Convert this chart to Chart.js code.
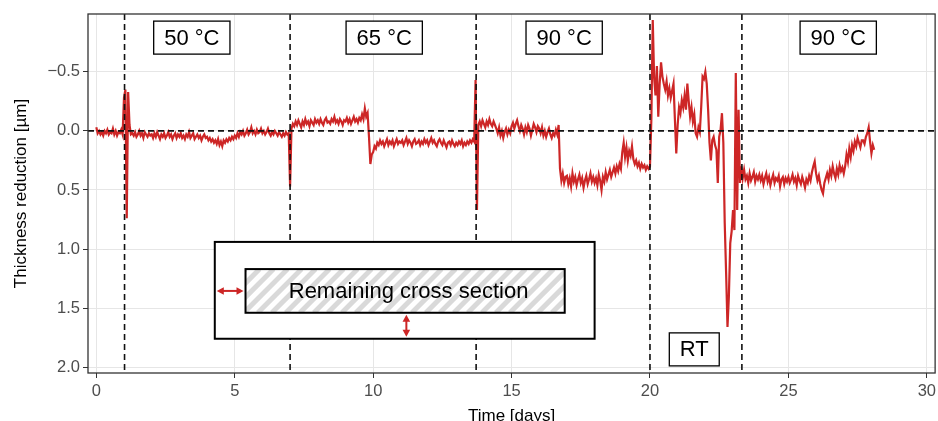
<!DOCTYPE html>
<html>
<head>
<meta charset="utf-8">
<script src="https://cdn.jsdelivr.net/npm/chart.js@4/dist/chart.umd.min.js"></script>
<style>
  html, body { margin: 0; padding: 0; background: #fff; overflow: hidden; }
  #wrap { width: 940px; height: 421px; position: relative; }
</style>
</head>
<body>
<div id="wrap"><canvas id="chart"></canvas></div>
<script>
// ── Daten ────────────────────────────────────────────────────

// Messwerte alle 0.05 Tage (20 pro Tag), Dickenabnahme in µm
const SAMPLE_STEP = 0.05;
const thickness = [
  // Tag 0
  -0.03, 0.02, 0.00, 0.03, 0.01, 0.04, 0.00, 0.02, -0.01, 0.03, 0.01, 0.02, -0.02, 0.03, 0.00, 0.04, 0.01, 0.02, -0.01, 0.03,
  // Tag 1
  -0.28, -0.35, 0.74, -0.33, -0.05, 0.03, 0.02, 0.04, 0.01, 0.05, 0.03, 0.00, 0.04, 0.02, 0.06, 0.01, 0.03, 0.05, 0.02, 0.04,
  // Tag 2
  0.03, 0.06, 0.02, 0.05, 0.01, 0.04, 0.07, 0.03, 0.05, 0.02, 0.06, 0.04, 0.01, 0.05, 0.03, 0.07, 0.04, 0.02, 0.06, 0.03,
  // Tag 3
  0.05, 0.02, 0.06, 0.04, 0.07, 0.03, 0.05, 0.01, 0.06, 0.04, 0.02, 0.07, 0.05, 0.03, 0.06, 0.04, 0.08, 0.05, 0.03, 0.06,
  // Tag 4
  0.05, 0.08, 0.06, 0.09, 0.07, 0.10, 0.08, 0.11, 0.07, 0.12, 0.09, 0.13, 0.08, 0.10, 0.07, 0.09, 0.06, 0.08, 0.05, 0.07,
  // Tag 5
  0.04, 0.06, 0.02, 0.05, 0.01, 0.03, 0.00, 0.04, 0.02, -0.01, 0.03, 0.01, -0.03, 0.02, 0.00, 0.03, -0.01, 0.02, 0.01, -0.02,
  // Tag 6
  0.02, 0.00, 0.03, 0.01, -0.02, 0.02, 0.04, 0.01, 0.03, 0.00, 0.02, 0.04, 0.01, 0.03, 0.05, 0.02, 0.04, 0.01, 0.03, 0.02,
  // Tag 7
  0.47, -0.02, -0.06, -0.04, -0.08, -0.05, -0.09, -0.06, -0.03, -0.08, -0.05, -0.10, -0.06, -0.08, -0.04, -0.09, -0.07, -0.05, -0.10, -0.07,
  // Tag 8
  -0.09, -0.06, -0.10, -0.07, -0.05, -0.09, -0.11, -0.07, -0.08, -0.06, -0.10, -0.08, -0.12, -0.07, -0.09, -0.06, -0.10, -0.08, -0.05, -0.09,
  // Tag 9
  -0.08, -0.11, -0.07, -0.10, -0.06, -0.09, -0.12, -0.08, -0.10, -0.07, -0.11, -0.09, -0.14, -0.10, -0.19, -0.12, -0.15, 0.05, 0.28, 0.20,
  // Tag 10
  0.18, 0.13, 0.15, 0.10, 0.12, 0.08, 0.11, 0.09, 0.13, 0.10, 0.07, 0.12, 0.09, 0.11, 0.08, 0.13, 0.10, 0.07, 0.11, 0.09,
  // Tag 11
  0.10, 0.08, 0.12, 0.09, 0.06, 0.11, 0.08, 0.10, 0.13, 0.09, 0.07, 0.11, 0.10, 0.08, 0.12, 0.09, 0.11, 0.07, 0.10, 0.08,
  // Tag 12
  0.12, 0.09, 0.06, 0.10, 0.08, 0.11, 0.13, 0.09, 0.07, 0.10, 0.12, 0.08, 0.11, 0.14, 0.10, 0.09, 0.12, 0.08, 0.11, 0.13,
  // Tag 13
  0.10, 0.12, 0.09, 0.11, 0.08, 0.13, 0.10, 0.12, 0.09, 0.11, 0.08, 0.10, 0.07, 0.09, -0.43, 0.67, -0.05, -0.08, -0.04, -0.09,
  // Tag 14
  -0.06, -0.03, -0.08, -0.05, -0.10, -0.06, -0.04, -0.08, -0.05, -0.02, 0.02, -0.03, 0.04, 0.00, 0.06, 0.01, -0.02, 0.03, -0.01, 0.02,
  // Tag 15
  -0.04, -0.07, -0.02, -0.06, -0.09, -0.04, 0.00, -0.05, -0.02, 0.03, -0.03, 0.01, -0.05, -0.02, 0.04, -0.01, -0.06, -0.03, 0.01, -0.04,
  // Tag 16
  -0.02, 0.02, -0.03, 0.04, 0.00, 0.05, 0.01, -0.02, 0.03, 0.06, 0.02, 0.04, -0.01, 0.03, -0.05, 0.32, 0.42, 0.36, 0.44, 0.39,
  // Tag 17
  0.38, 0.45, 0.40, 0.47, 0.36, 0.43, 0.39, 0.46, 0.41, 0.37, 0.44, 0.40, 0.48, 0.42, 0.38, 0.45, 0.41, 0.36, 0.43, 0.39,
  // Tag 18
  0.44, 0.40, 0.46, 0.37, 0.42, 0.50, 0.39, 0.43, 0.35, 0.41, 0.37, 0.33, 0.39, 0.35, 0.31, 0.36, 0.30, 0.34, 0.28, 0.32,
  // Tag 19
  0.18, 0.10, 0.22, 0.14, 0.25, 0.17, 0.21, 0.13, 0.24, 0.28, 0.25, 0.30, 0.27, 0.32, 0.28, 0.31, 0.29, 0.33, 0.30, 0.32,
  // Tag 20
  0.30, -0.10, -0.94, -0.45, -0.30, -0.55, -0.12, -0.40, -0.58, -0.46, -0.40, -0.35, -0.42, -0.30, -0.36, -0.28, -0.34, -0.40, -0.10, 0.19,
  // Tag 21
  -0.05, -0.20, -0.15, -0.26, -0.20, -0.30, -0.18, -0.40, -0.25, -0.12, -0.20, -0.08, -0.14, 0.02, 0.05, -0.03, 0.01, -0.20, -0.46, -0.44,
  // Tag 22
  -0.50, -0.40, -0.18, 0.10, 0.25, 0.08, 0.05, 0.12, 0.16, 0.44, 0.05, -0.01, -0.15, 0.10, 0.78, 1.20, 1.66, 1.40, 0.95, 0.85,
  // Tag 23
  0.67, 0.84, -0.49, 0.67, -0.18, 0.44, 0.30, 0.40, 0.33, 0.41, 0.38, 0.44, 0.36, 0.42, 0.39, 0.35, 0.43, 0.38, 0.41, 0.37,
  // Tag 24
  0.42, 0.38, 0.45, 0.40, 0.36, 0.43, 0.39, 0.46, 0.41, 0.37, 0.44, 0.40, 0.42, 0.38, 0.47, 0.41, 0.39, 0.45, 0.40, 0.43,
  // Tag 25
  0.39, 0.44, 0.41, 0.37, 0.43, 0.40, 0.46, 0.38, 0.42, 0.45, 0.39, 0.43, 0.48, 0.41, 0.44, 0.38, 0.42, 0.35, 0.30, 0.26,
  // Tag 26
  0.36, 0.42, 0.38, 0.45, 0.50, 0.53, 0.44, 0.40, 0.36, 0.41, 0.33, 0.38, 0.30, 0.36, 0.40, 0.32, 0.37, 0.29, 0.34, 0.31,
  // Tag 27
  0.36, 0.30, 0.20, 0.26, 0.15, 0.22, 0.12, 0.17, 0.09, 0.13, 0.06, 0.10, 0.14, 0.08, 0.08, 0.11, 0.05, 0.02, -0.03, 0.09,
  // Tag 28
  0.19, 0.12, 0.16
];

const xTicks = [0, 5, 10, 15, 20, 25, 30];
const yTicks = [-0.5, 0, 0.5, 1, 1.5, 2];

// Temperaturwechsel (Tage) und Beschriftungen der Phasen
const phaseChanges = [1.02, 7.0, 13.72, 20.0, 23.32];
const phaseNames   = ['50 °C', '65 °C', '90 °C', 'RT', '90 °C'];

// ── Layout der Beschriftungen (in Achseneinheiten) ───────────

const phaseLabelAt = [
  { x: 3.45, y: -0.79 },
  { x: 10.4, y: -0.79 },
  { x: 16.9, y: -0.79 },
  { x: 21.6, y: 1.85 },
  { x: 26.8, y: -0.79 }
];
const insetOuter = { x0: 4.28, x1: 18.0, y0: 0.94, y1: 1.76 };
const insetInner = { x0: 5.39, x1: 16.92, y0: 1.17, y1: 1.54 };
const insetText  = { text: 'Remaining cross section', x: 11.28 };
const arrowDay   = 11.2;

const RED = '#cd2626';
const FONT = '"Liberation Sans", Arial, Helvetica, sans-serif';

// ── Hilfsfunktionen ──────────────────────────────────────────

function fmtY(v) {
  return v.toFixed(1).replace('-', '\u2212');
}

function arrowHead(ctx, x, y, ang) {
  const len = 7, half = 3.8;
  ctx.beginPath();
  ctx.moveTo(x, y);
  ctx.lineTo(x - len * Math.cos(ang) + half * Math.sin(ang), y - len * Math.sin(ang) - half * Math.cos(ang));
  ctx.lineTo(x - len * Math.cos(ang) - half * Math.sin(ang), y - len * Math.sin(ang) + half * Math.cos(ang));
  ctx.closePath();
  ctx.fill();
}

function doubleArrow(ctx, x1, y1, x2, y2) {
  const ang = Math.atan2(y2 - y1, x2 - x1);
  ctx.strokeStyle = RED;
  ctx.fillStyle = RED;
  ctx.lineWidth = 2;
  ctx.beginPath();
  ctx.moveTo(x1 + 4 * Math.cos(ang), y1 + 4 * Math.sin(ang));
  ctx.lineTo(x2 - 4 * Math.cos(ang), y2 - 4 * Math.sin(ang));
  ctx.stroke();
  arrowHead(ctx, x2, y2, ang);
  arrowHead(ctx, x1, y1, ang + Math.PI);
}

function labelBox(ctx, text, cx, cy) {
  ctx.font = '22px ' + FONT;
  const w = ctx.measureText(text).width + 21;
  const h = 33;
  ctx.fillStyle = '#fff';
  ctx.fillRect(cx - w / 2, cy - h / 2, w, h);
  ctx.strokeStyle = '#000';
  ctx.lineWidth = 1.3;
  ctx.strokeRect(cx - w / 2, cy - h / 2, w, h);
  ctx.fillStyle = '#000';
  ctx.textAlign = 'center';
  ctx.textBaseline = 'middle';
  ctx.fillText(text, cx, cy + 1);
}

// ── Overlay: Hilfslinien, Inset, Beschriftungen, Rahmen ──────

const overlay = {
  id: 'overlay',
  afterDatasetsDraw(chart) {
    const { ctx, chartArea: a, scales: { x, y } } = chart;
    ctx.save();

    // gestrichelte Linien
    ctx.setLineDash([6, 4]);
    ctx.lineWidth = 1.6;
    ctx.strokeStyle = '#111';
    ctx.beginPath();
    const y0 = y.getPixelForValue(0);
    ctx.moveTo(a.left, y0);
    ctx.lineTo(a.right, y0);
    phaseChanges.forEach(d => {
      const px = x.getPixelForValue(d);
      ctx.moveTo(px, a.top);
      ctx.lineTo(px, a.bottom);
    });
    ctx.stroke();
    ctx.setLineDash([]);

    // Inset: äußerer Kasten
    const ox0 = x.getPixelForValue(insetOuter.x0), ox1 = x.getPixelForValue(insetOuter.x1);
    const oy0 = y.getPixelForValue(insetOuter.y0), oy1 = y.getPixelForValue(insetOuter.y1);
    ctx.fillStyle = '#fff';
    ctx.fillRect(ox0, oy0, ox1 - ox0, oy1 - oy0);
    ctx.strokeStyle = '#000';
    ctx.lineWidth = 2;
    ctx.strokeRect(ox0, oy0, ox1 - ox0, oy1 - oy0);

    // Inset: schraffierter Querschnitt
    const ix0 = x.getPixelForValue(insetInner.x0), ix1 = x.getPixelForValue(insetInner.x1);
    const iy0 = y.getPixelForValue(insetInner.y0), iy1 = y.getPixelForValue(insetInner.y1);
    const ih = iy1 - iy0;
    ctx.save();
    ctx.beginPath();
    ctx.rect(ix0, iy0, ix1 - ix0, ih);
    ctx.clip();
    ctx.strokeStyle = '#d9d9d9';
    ctx.lineWidth = 5;
    ctx.beginPath();
    for (let k = ix0 - ih; k < ix1 + ih; k += 14) {
      ctx.moveTo(k, iy1);
      ctx.lineTo(k + ih, iy0);
    }
    ctx.stroke();
    ctx.restore();
    ctx.strokeStyle = '#000';
    ctx.lineWidth = 2;
    ctx.strokeRect(ix0, iy0, ix1 - ix0, ih);

    ctx.font = '22px ' + FONT;
    ctx.fillStyle = '#000';
    ctx.textAlign = 'center';
    ctx.textBaseline = 'middle';
    ctx.fillText(insetText.text, x.getPixelForValue(insetText.x), (iy0 + iy1) / 2 + 1);

    // Pfeile
    const midY = (iy0 + iy1) / 2;
    doubleArrow(ctx, ox0 + 2, midY, ix0 - 2, midY);
    const ax = x.getPixelForValue(arrowDay);
    doubleArrow(ctx, ax, iy1 + 2, ax, oy1 - 2);

    // Phasen-Beschriftungen
    phaseNames.forEach((name, i) => {
      labelBox(ctx, name, x.getPixelForValue(phaseLabelAt[i].x), y.getPixelForValue(phaseLabelAt[i].y));
    });

    // Rahmen
    ctx.strokeStyle = '#333';
    ctx.lineWidth = 1.3;
    ctx.strokeRect(a.left, a.top, a.right - a.left, a.bottom - a.top);

    ctx.restore();
  }
};

// ── Chart ────────────────────────────────────────────────────

Chart.defaults.font.family = FONT;

const points = thickness.map((v, i) => ({ x: i * SAMPLE_STEP, y: v }));

new Chart(document.getElementById('chart'), {
  type: 'line',
  data: {
    datasets: [{
      data: points,
      borderColor: RED,
      borderWidth: 2.2,
      pointRadius: 0,
      tension: 0,
      fill: false
    }]
  },
  options: {
    responsive: true,
    maintainAspectRatio: false,
    animation: false,
    parsing: false,
    layout: { padding: { top: 14, right: 1, left: 0, bottom: 0 } },
    plugins: {
      legend: { display: false },
      tooltip: { enabled: false }
    },
    scales: {
      x: {
        type: 'linear',
        min: -0.3,
        max: 30.3,
        afterFit: s => { s.height = 48; },
        afterBuildTicks: s => { s.ticks = xTicks.map(value => ({ value })); },
        grid: { color: '#e6e6e6', lineWidth: 1, tickColor: '#333', tickLength: 5 },
        border: { display: false },
        ticks: {
          color: '#4d4d4d',
          font: { size: 16.5 },
          padding: 4,
          maxRotation: 0,
          callback: v => String(v)
        },
        title: {
          display: true,
          text: 'Time [days]',
          color: '#000',
          font: { size: 17, lineHeight: 0.6 },
          padding: { top: 0, bottom: 0 }
        }
      },
      y: {
        type: 'linear',
        reverse: true,
        min: -0.99,
        max: 2.05,
        afterFit: s => { s.width = 88; },
        afterBuildTicks: s => { s.ticks = yTicks.map(value => ({ value })); },
        grid: { color: '#e6e6e6', lineWidth: 1, tickColor: '#333', tickLength: 5 },
        border: { display: false },
        ticks: {
          color: '#4d4d4d',
          font: { size: 16.5 },
          padding: 3,
          callback: v => fmtY(v)
        },
        title: {
          display: true,
          text: 'Thickness reduction [µm]',
          color: '#000',
          font: { size: 17, lineHeight: 1 },
          padding: { top: 13, bottom: 0 }
        }
      }
    }
  },
  plugins: [overlay]
});
</script>
</body>
</html>
